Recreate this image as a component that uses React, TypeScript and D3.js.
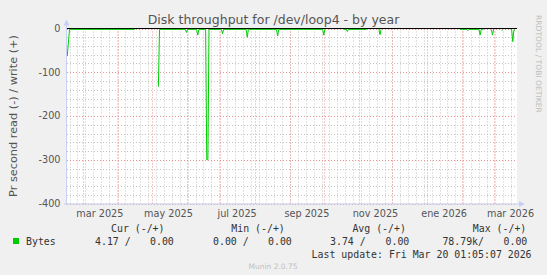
import React from "react";
import * as d3 from "d3";

const W = 547;
const H = 275;

const titleText = "Disk throughput for /dev/loop4 - by year";
const yAxisTitle = "Pr second read (-) / write (+)";
const sideText = "RRDTOOL / TOBI OETIKER";
const footerText = "Munin 2.0.75";
const lastUpdateText = "Last update: Fri Mar 20 01:05:07 2026";

const timeStart = "2025-02-14T18:40:00Z";
const timeEnd = "2026-03-21T18:40:00Z";
const yMin = -400;
const yMax = 0;
const yTickValues = [0, -100, -200, -300, -400];

const monthLabelStarts = ["2025-03-01", "2025-05-01", "2025-07-01", "2025-09-01", "2025-11-01", "2026-01-01", "2026-03-01"];
const monthLabelTexts = ["mar 2025", "may 2025", "jul 2025", "sep 2025", "nov 2025", "ene 2026", "mar 2026"];

// read series (drawn negative); null date = gap in data
const readDates: (string | null)[] = [
  "2025-02-15", "2025-02-17", "2025-04-16", null,
  "2025-05-07", "2025-05-08", "2025-05-31", "2025-06-01", "2025-06-02",
  "2025-06-10", "2025-06-11", "2025-06-12", "2025-06-18", "2025-06-19", "2025-06-20", "2025-06-21",
  "2025-07-02", "2025-07-03", "2025-07-04", "2025-07-24", "2025-07-25", "2025-07-26",
  "2025-08-20", "2025-08-21", "2025-08-22", "2025-09-30", "2025-10-01", "2025-10-02", null,
  "2025-10-19", "2025-10-21", "2025-10-22", "2025-10-23", "2025-11-08", null,
  "2025-11-19", "2025-11-20", "2025-11-21", null,
  "2026-01-30", "2026-02-05", "2026-02-06", "2026-02-07", "2026-02-16", "2026-02-17", "2026-02-18", "2026-02-20", null,
  "2026-02-27", "2026-02-28", "2026-03-01", null,
  "2026-03-08", "2026-03-09", null,
  "2026-03-16", "2026-03-17", "2026-03-18", "2026-03-19", "2026-03-20",
];
const readValues: (number | null)[] = [
  -63, -2, -2, null,
  -133, -2, -2, -9, -2,
  -2, -15, -2, -2, -300, -300, -2,
  -2, -12, -2, -2, -20, -2,
  -2, -17, -2, -2, -15, -2, null,
  -2, -2, -7, -2, -2, null,
  -2, -14, -2, null,
  -2, -2, -5, -2, -2, -15, -2, -2, null,
  -2, -15, -2, null,
  -4, -4, null,
  -2, -2, -30, -4, -4,
];

const legendName = "Bytes";
const legendHeaders = ["Cur (-/+)", "Min (-/+)", "Avg (-/+)", "Max (-/+)"];
const legendValues = ["4.17 /", "0.00", "0.00 /", "0.00", "3.74 /", "0.00", "78.79k/", "0.00"];

// layout
const PL = 67, PR = 517, PT = 28.5, PB = 203.5;
const headerX = [111, 231.3, 352.4, 472.8];
const valueX = [95, 150, 213, 268, 330, 385.5, 442.4, 503.5];

const GREEN = "#00cc00";
const AXIS = "#c8cff5";
const MAJOR = "#e89494";
const MINOR = "#c4c4c4";

export default function App() {
  const x = d3.scaleUtc().domain([new Date(timeStart), new Date(timeEnd)]).range([PL, PR]);
  const y = d3.scaleLinear().domain([yMin, yMax]).range([PB, PT]);

  const months = d3.utcMonth.range(new Date(timeStart), new Date(timeEnd));
  const weeks = d3.utcMonday.range(new Date(timeStart), new Date(timeEnd));
  const minorY = d3.range(yMin, yMax + 1, 20).filter((v) => v % 100 !== 0);
  const majorY = d3.range(yMin, yMax + 1, 100);

  const pts = readDates.map((d, i) => ({
    t: d ? new Date(d + "T00:00:00Z") : null,
    v: readValues[i],
  }));
  const line = d3
    .line<{ t: Date | null; v: number | null }>()
    .defined((p) => p.t !== null && p.v !== null)
    .x((p) => x(p.t as Date))
    .y((p) => y(p.v as number));

  const sans = "'DejaVu Sans', Verdana, sans-serif";
  const mono = "'DejaVu Sans Mono', monospace";

  return (
    <svg width={W} height={H} style={{ position: "absolute", left: 0, top: 0 }} xmlns="http://www.w3.org/2000/svg">
      <rect x={0} y={0} width={W} height={H} fill="#f0f0f0" />
      <rect x={PL} y={PT} width={PR - PL} height={PB - PT} fill="#ffffff" />

      {/* minor grid */}
      {weeks.map((d, i) => (
        <line key={"wv" + i} x1={Math.round(x(d)) + 0.5} x2={Math.round(x(d)) + 0.5} y1={PT} y2={PB}
          stroke={MINOR} strokeWidth={1} strokeDasharray="1,2" />
      ))}
      {minorY.map((v, i) => (
        <line key={"mh" + i} x1={PL} x2={PR} y1={Math.round(y(v)) + 0.5} y2={Math.round(y(v)) + 0.5}
          stroke={MINOR} strokeWidth={1} strokeDasharray="1,2" />
      ))}
      {/* major grid */}
      {months.map((d, i) => (
        <line key={"mv" + i} x1={Math.round(x(d)) + 0.5} x2={Math.round(x(d)) + 0.5} y1={PT} y2={PB}
          stroke={MAJOR} strokeWidth={1} strokeDasharray="1,2" />
      ))}
      {majorY.map((v, i) => (
        <line key={"jh" + i} x1={PL} x2={PR} y1={Math.round(y(v)) + 0.5} y2={Math.round(y(v)) + 0.5}
          stroke={MAJOR} strokeWidth={1} strokeDasharray="1,2" />
      ))}

      {/* zero rule */}
      <line x1={PL} x2={PR} y1={y(0)} y2={y(0)} stroke="#000" strokeWidth={1} />

      {/* data */}
      <path d={line(pts) || ""} fill="none" stroke={GREEN} strokeWidth={1} />

      {/* axes */}
      <line x1={PL - 0.5} x2={PL - 0.5} y1={PB + 1} y2={PT - 4} stroke={AXIS} strokeWidth={1} />
      <path d={`M${PL - 3.5},${PT - 3} L${PL - 0.5},${PT - 9} L${PL + 2.5},${PT - 3} Z`} fill={AXIS} />
      <line x1={PL - 3} x2={PR + 3} y1={PB + 0.5} y2={PB + 0.5} stroke={AXIS} strokeWidth={1} />
      <path d={`M${PR + 2},${PB - 2.5} L${PR + 8},${PB + 0.5} L${PR + 2},${PB + 3.5} Z`} fill={AXIS} />

      {/* y tick labels */}
      {yTickValues.map((v, i) => (
        <text key={"yt" + i} x={60.5} y={y(v)} dy="0.36em" textAnchor="end" fontFamily={sans} fontSize={9.7} fill="#555">
          {v}
        </text>
      ))}

      {/* x labels at month middle */}
      {monthLabelStarts.map((s, i) => {
        const d0 = new Date(s + "T00:00:00Z");
        const mid = d3.utcDay.offset(d0, 15);
        return (
          <text key={"xl" + i} x={x(mid)} y={216.5} textAnchor="middle" fontFamily={sans} fontSize={9.7} fill="#555">
            {monthLabelTexts[i]}
          </text>
        );
      })}

      {/* title */}
      <text x={273.5} y={24} textAnchor="middle" fontFamily={sans} fontSize={12.5} fill="#555">
        {titleText}
      </text>

      {/* y axis title */}
      <text transform={`translate(16.5,${(PT + PB) / 2}) rotate(-90)`} textAnchor="middle" fontFamily={sans}
        fontSize={11.3} fill="#555">
        {yAxisTitle}
      </text>

      {/* side credit */}
      <text transform={`translate(535.5,15) rotate(90)`} textAnchor="start" fontFamily={sans} fontSize={7.6}
        fill="#bdbdbd">
        {sideText}
      </text>

      {/* legend */}
      {legendHeaders.map((h, i) => (
        <text key={"lh" + i} x={headerX[i]} y={232} fontFamily={mono} fontSize={9.9} fill="#333" xmlSpace="preserve">
          {h}
        </text>
      ))}
      <rect x={13.5} y={238.5} width={5} height={5} fill={GREEN} stroke={GREEN} strokeWidth={1} />
      <text x={26} y={244.5} fontFamily={mono} fontSize={9.9} fill="#333">
        {legendName}
      </text>
      {legendValues.map((v, i) => (
        <text key={"lv" + i} x={valueX[i]} y={244.5} fontFamily={mono} fontSize={9.9} fill="#333">
          {v}
        </text>
      ))}
      <text x={311.6} y={257.5} fontFamily={mono} fontSize={9.9} fill="#333">
        {lastUpdateText}
      </text>
      <text x={273} y={269} textAnchor="middle" fontFamily={sans} fontSize={7.5} fill="#c0c0c0">
        {footerText}
      </text>
    </svg>
  );
}
